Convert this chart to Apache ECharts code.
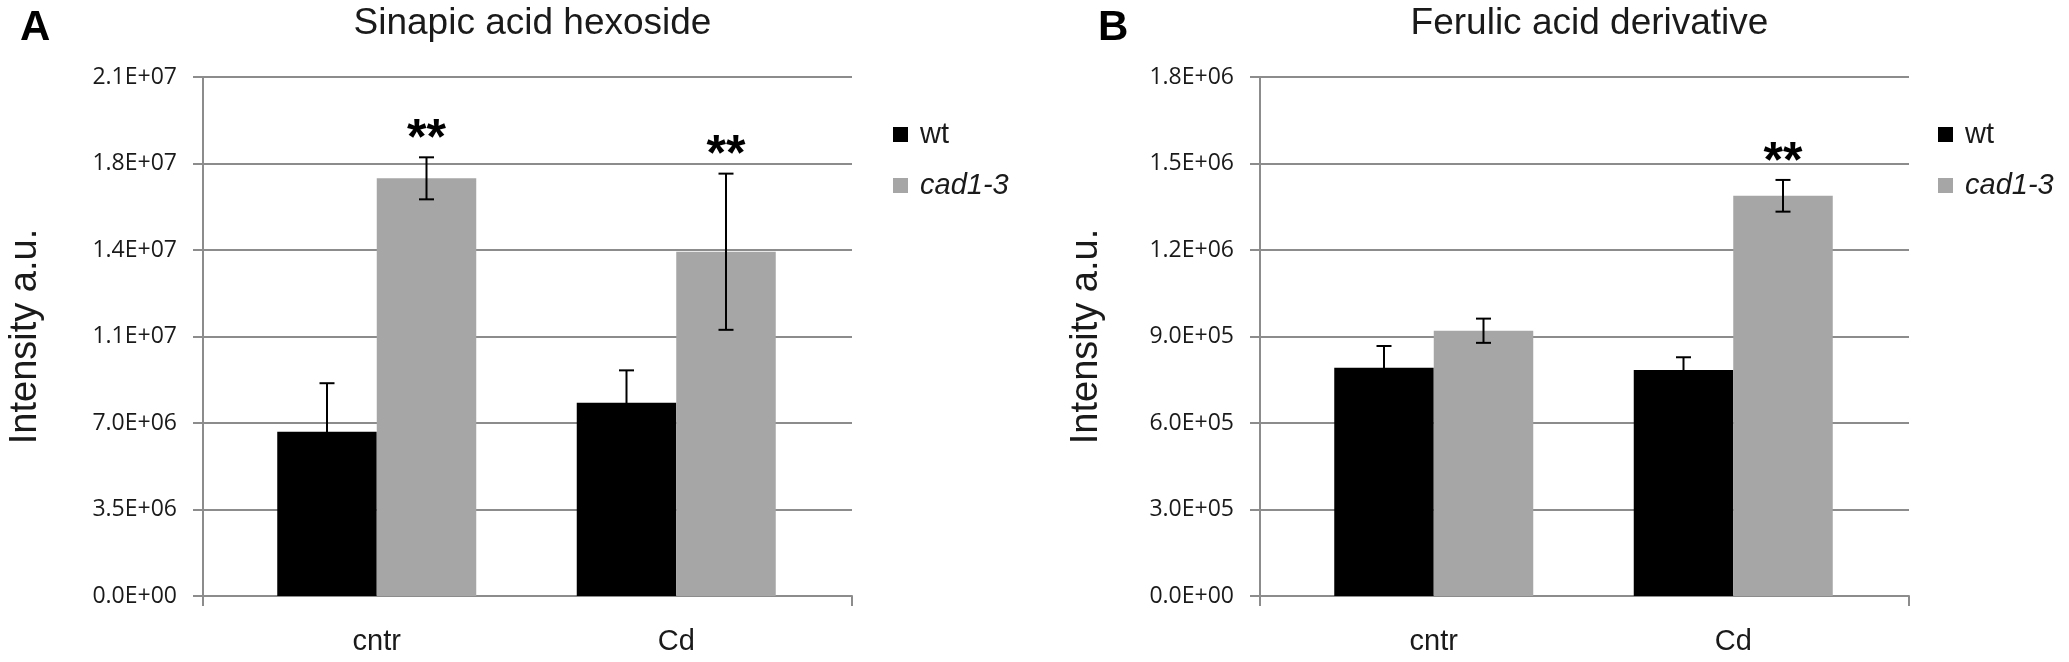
<!DOCTYPE html>
<html>
<head>
<meta charset="utf-8">
<script src="https://cdn.jsdelivr.net/npm/echarts@6/dist/echarts.min.js"></script>
<style>
  html, body { margin: 0; padding: 0; background: #fff; }
  #main { width: 2069px; height: 662px; }
</style>
</head>
<body>
<div id="main"></div>
<script>
const categories = ['cntr', 'Cd']
const seriesNames = ['wt', 'cad1-3']

// A: Sinapic acid hexoside
const sinapicWt = [6.65e6, 7.82e6]
const sinapicWtErr = [1.96e6, 1.31e6]
const sinapicCad = [1.69e7, 1.393e7]
const sinapicCadErr = [0.085e7, 0.316e7]
const sinapicCadSig = ['**', '**']
const sinapicMax = 2.1e7
const sinapicStep = 3.5e6

// B: Ferulic acid derivative
const ferulicWt = [7.92e5, 7.84e5]
const ferulicWtErr = [0.75e5, 0.44e5]
const ferulicCad = [9.2e5, 1.388e6]
const ferulicCadErr = [0.42e5, 0.55e5]
const ferulicCadSig = ['', '**']
const ferulicMax = 1.8e6
const ferulicStep = 3e5

const panels = [
  { letter: 'A', title: 'Sinapic acid hexoside', wt: sinapicWt, wtErr: sinapicWtErr, cad: sinapicCad, cadErr: sinapicCadErr,
    sig: sinapicCadSig, max: sinapicMax, step: sinapicStep,
    axisLeft: 203, barLeft: 227, letterLeft: 15, legendLeft: 893, nameGap: 158 },
  { letter: 'B', title: 'Ferulic acid derivative', wt: ferulicWt, wtErr: ferulicWtErr, cad: ferulicCad, cadErr: ferulicCadErr,
    sig: ferulicCadSig, max: ferulicMax, step: ferulicStep,
    axisLeft: 1260, barLeft: 1284, letterLeft: 1093, legendLeft: 1938, nameGap: 154 }
]

const TOP = 77
const HEIGHT = 519
const AXIS_W = 649
const BAR_AREA_W = 599
const BAR_W = 99.5
const gridColor = '#8c8c8c'
const textColor = '#1a1a1a'

// Excel style 0.0E+00
function sci(v) {
  const parts = Math.round(v).toExponential(1).split('e')
  const exp = parts[1]
  return parts[0] + 'E' + exp[0] + exp.slice(1).padStart(2, '0')
}

function errorRenderer(values, errs, sig, offset) {
  return function (params, api) {
    const i = params.dataIndex
    const v = values[i]
    const e = errs[i]
    const top = api.coord([i, v + e])
    const bot = api.coord([i, v - e])
    const x = top[0] + offset
    const style = { stroke: '#000', lineWidth: 2 }
    const children = [
      { type: 'line', shape: { x1: x, y1: top[1], x2: x, y2: bot[1] }, style },
      { type: 'line', shape: { x1: x - 7.5, y1: top[1], x2: x + 7.5, y2: top[1] }, style },
      { type: 'line', shape: { x1: x - 7.5, y1: bot[1], x2: x + 7.5, y2: bot[1] }, style }
    ]
    if (sig && sig[i]) {
      children.push({
        type: 'text',
        style: { text: sig[i], x: x, y: top[1] - 17, align: 'center', verticalAlign: 'middle',
                 fontSize: 50, fontWeight: 'bold', fontFamily: 'Liberation Sans', fill: '#000' }
      })
    }
    return { type: 'group', children }
  }
}

const option = {
  backgroundColor: '#fff',
  animation: false,
  title: [],
  legend: [],
  grid: [],
  xAxis: [],
  yAxis: [],
  series: []
}

panels.forEach((p, k) => {
  const ga = 2 * k
  const gb = 2 * k + 1
  const center = p.axisLeft + AXIS_W / 2

  option.title.push({
    text: p.letter, left: p.letterLeft, top: 2,
    textStyle: { fontSize: 42, fontWeight: 'bold', fontFamily: 'Liberation Sans', color: '#000' }
  })
  option.title.push({
    text: p.title, left: center, top: 0, textAlign: 'center',
    textStyle: { fontSize: 37, fontWeight: 'normal', fontFamily: 'Liberation Sans', color: textColor }
  })

  option.legend.push({
    data: seriesNames, orient: 'vertical', left: p.legendLeft, top: 120, padding: 0,
    icon: 'rect', itemWidth: 15, itemHeight: 15, itemGap: 22, selectedMode: false,
    formatter: name => name === 'cad1-3' ? '{i|' + name + '}' : '{n|' + name + '}',
    textStyle: {
      rich: {
        n: { fontSize: 29, lineHeight: 29, fontFamily: 'Liberation Sans', color: textColor, padding: [0, 0, 0, 7] },
        i: { fontSize: 29, lineHeight: 29, fontFamily: 'Liberation Sans', fontStyle: 'italic', color: textColor, padding: [0, 0, 0, 7] }
      }
    }
  })

  option.grid.push({ left: p.axisLeft, top: TOP, width: AXIS_W, height: HEIGHT })
  option.grid.push({ left: p.barLeft, top: TOP, width: BAR_AREA_W, height: HEIGHT })

  option.xAxis.push({
    type: 'value', gridIndex: ga, min: 0, max: 1, interval: 1,
    axisLine: { show: true, lineStyle: { color: gridColor, width: 2 } },
    axisTick: { show: true, length: 10, lineStyle: { color: gridColor, width: 2 } },
    axisLabel: { show: false }, splitLine: { show: false }
  })
  option.xAxis.push({
    type: 'category', gridIndex: gb, data: categories,
    axisLine: { show: false }, axisTick: { show: false },
    axisLabel: { margin: 31, fontSize: 29, fontFamily: 'Liberation Sans', color: textColor }
  })

  option.yAxis.push({
    type: 'value', gridIndex: ga, min: 0, max: p.max, interval: p.step,
    name: 'Intensity a.u.', nameLocation: 'middle', nameGap: p.nameGap,
    nameTextStyle: { fontSize: 38, fontFamily: 'Liberation Sans', color: textColor },
    axisLine: { show: true, lineStyle: { color: gridColor, width: 2 } },
    axisTick: { show: true, length: 10, lineStyle: { color: gridColor, width: 2 } },
    axisLabel: { margin: 26, fontSize: 23, fontFamily: 'Open Sans', color: textColor, formatter: sci },
    splitLine: { show: true, lineStyle: { color: gridColor, width: 2 } }
  })
  option.yAxis.push({ type: 'value', gridIndex: gb, min: 0, max: p.max, show: false })

  option.series.push({
    name: 'wt', type: 'bar', xAxisIndex: gb, yAxisIndex: gb, data: p.wt,
    barWidth: BAR_W, barGap: '0%', itemStyle: { color: '#000' }
  })
  option.series.push({
    name: 'cad1-3', type: 'bar', xAxisIndex: gb, yAxisIndex: gb, data: p.cad,
    barWidth: BAR_W, barGap: '0%', itemStyle: { color: '#a6a6a6' }
  })
  option.series.push({
    type: 'custom', xAxisIndex: gb, yAxisIndex: gb, z: 5, data: p.wt.map((v, i) => [i, v]),
    renderItem: errorRenderer(p.wt, p.wtErr, null, -BAR_W / 2)
  })
  option.series.push({
    type: 'custom', xAxisIndex: gb, yAxisIndex: gb, z: 5, data: p.cad.map((v, i) => [i, v]),
    renderItem: errorRenderer(p.cad, p.cadErr, p.sig, BAR_W / 2)
  })
})

const chart = echarts.init(document.getElementById('main'))
chart.setOption(option)
</script>
</body>
</html>
